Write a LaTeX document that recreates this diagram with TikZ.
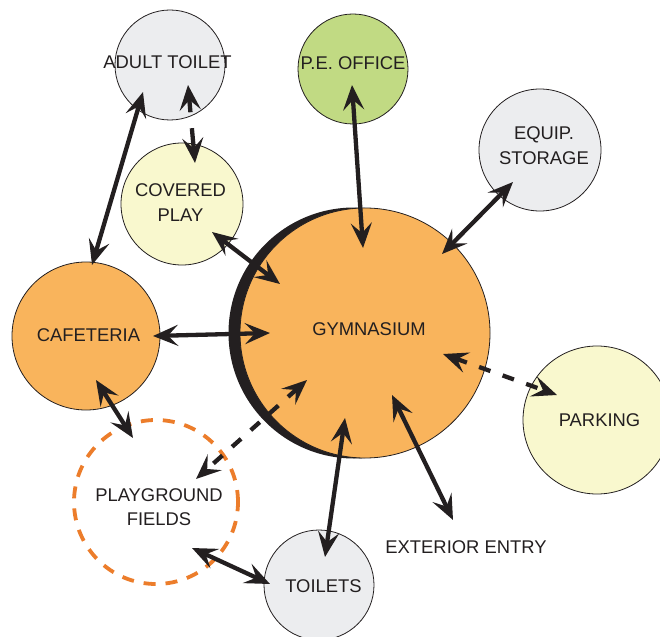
\documentclass[tikz,border=0pt]{standalone}
\usepackage{fontspec}
\setmainfont{Liberation Sans}
\usetikzlibrary{arrows.meta,calc}
\definecolor{ink}{HTML}{231F20}
\definecolor{gymorange}{HTML}{F9B45C}
\definecolor{pegreen}{HTML}{C1DA83}
\definecolor{paleyellow}{HTML}{F9F8CE}
\definecolor{palegray}{HTML}{ECEDEF}
\definecolor{fieldorange}{HTML}{EC7D2B}
\begin{document}
\begin{tikzpicture}[x=1pt,y=-1pt,
  room/.style={circle,draw=ink,line width=0.8pt,inner sep=0pt,minimum size=#1},
  lbl/.style={text=ink,font=\fontsize{18.4}{24.5}\selectfont,align=center,inner sep=0pt},
  barb/.tip={Stealth[length=25pt,width=21pt,inset=10pt]},
  link/.style={draw=ink,line width=4.3pt,{barb}-{barb}},
  dlink/.style={link,dash pattern=on 12pt off 13pt}]
\useasboundingbox (0,0) rectangle (660,636);
\clip (0,0) rectangle (660,636);
% circles
\node[circle,fill=ink,inner sep=0pt,minimum size=251pt] (gymshadow) at (354,333) {};
\node[room=250pt,fill=gymorange] (gym) at (365,333) {};
\node[room=110pt,fill=palegray] (adult) at (170,65) {};
\node[room=122pt,fill=paleyellow] (cplay) at (182,204) {};
\node[room=110pt,fill=pegreen] (pe) at (353,69) {};
\node[room=122pt,fill=palegray] (equip) at (540,150) {};
\node[room=148pt,fill=gymorange] (caf) at (86,336) {};
\node[room=148pt,fill=paleyellow] (park) at (597,420) {};
\node[circle,draw=fieldorange,line width=3.8pt,dash pattern=on 12pt off 10pt,minimum size=164pt,inner sep=0pt] (fields) at (156,502) {};
\node[room=110pt,fill=palegray] (toilets) at (319,585) {};
% labels
\node[lbl] (adultT) at (167.5,62) {ADULT TOILET};
\node[lbl] (cplayT) at (180.5,202.5) {COVERED\\PLAY};
\node[lbl] (peT) at (353,63) {P.E. OFFICE};
\node[lbl] (equipT) at (544,145.5) {EQUIP.\\STORAGE};
\node[lbl] (cafT) at (88.5,335) {CAFETERIA};
\node[lbl] (gymT) at (369,329) {GYMNASIUM};
\node[lbl] (parkT) at (599.5,420) {PARKING};
\node[lbl] (fieldsT) at (159,507) {PLAYGROUND\\FIELDS};
\node[lbl] (toiletsT) at (323.5,586) {TOILETS};
\node[lbl] (ext) at (466,547) {EXTERIOR ENTRY};
% connectors
\draw[link] ($(adult)+(-27,27)$) -- ($(caf)+(6,-71)$);
\draw[link,dash pattern=on 14pt off 16pt on 60pt] ($(adult)+(18,20)$) -- ($(cplay)+(13,-41)$);
\draw[link] ($(pe)+(-1,16)$) -- ($(gym)+(-2,-85)$);
\draw[link] ($(equip)+(-27,32)$) -- ($(gym)+(77,-79)$);
\draw[link] ($(cplay)+(30,28)$) -- ($(gym)+(-85,-49)$);
\draw[link] ($(caf)+(67,0)$) -- ($(gym)+(-95,0)$);
\draw[link] ($(caf)+(10,44)$) -- ($(fields)+(-23,-64)$);
\draw[dlink] ($(gym)+(-58,47)$) -- ($(fields)+(40,-23)$);
\draw[link] ($(fields)+(36,46)$) -- ($(toilets)+(-49,-1)$);
\draw[link] ($(gym)+(-20,85)$) -- ($(toilets)+(6,-28)$);
\draw[link] ($(gym)+(27,62)$) -- ($(ext)+(-13,-27)$);
\draw[dlink] ($(gym)+(78,21)$) -- ($(park)+(-40,-25)$);
\end{tikzpicture}
\end{document}
